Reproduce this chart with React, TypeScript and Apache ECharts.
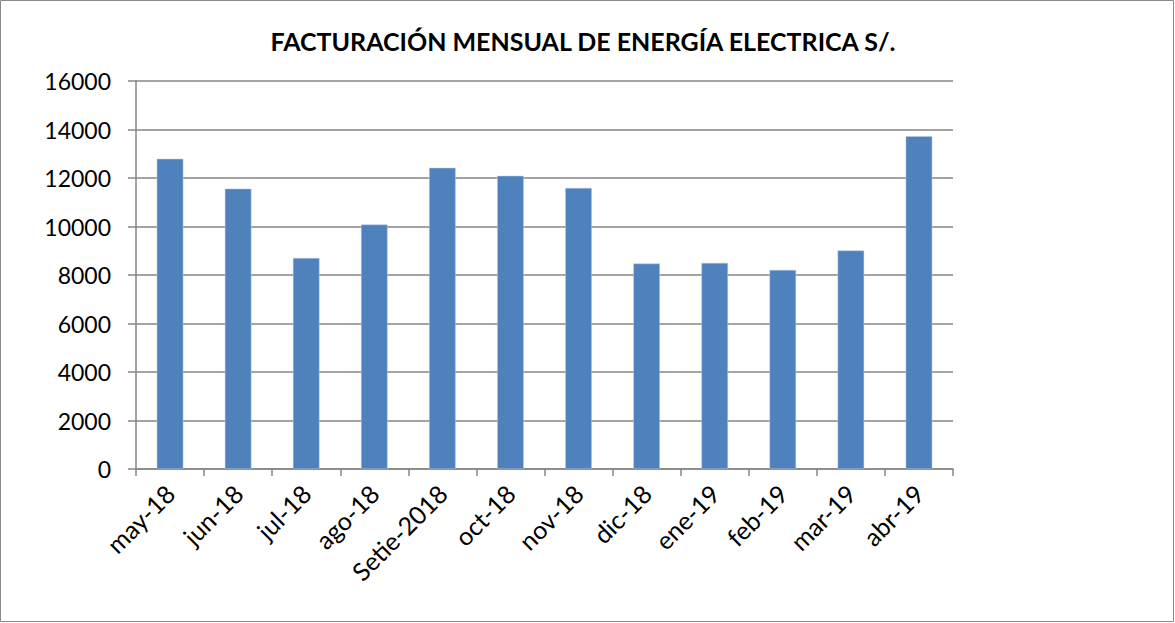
import React, { useEffect, useRef } from "react";
import * as echarts from "echarts";

const categories = ["may-18", "jun-18", "jul-18", "ago-18", "Setie-2018", "oct-18", "nov-18", "dic-18", "ene-19", "feb-19", "mar-19", "abr-19"];
const values = [12790, 11560, 8700, 10080, 12420, 12090, 11590, 8470, 8500, 8210, 9010, 13720];
const titleText = "FACTURACIÓN MENSUAL DE ENERGÍA ELECTRICA S/.";

export default function App() {
  const ref = useRef<HTMLDivElement>(null);
  useEffect(() => {
    document.body.style.margin = "0";
    const chart = echarts.init(ref.current!, null, { renderer: "svg" });
    chart.setOption({
      animation: false,
      textStyle: { fontFamily: "Lato" },
      graphic: [
        {
          type: "rect",
          shape: { x: 0.5, y: 0.5, width: 1173, height: 621 },
          style: { fill: "none", stroke: "#8a8a8a", lineWidth: 1 },
          silent: true,
        },
        {
          type: "text",
          x: 583,
          y: 41,
          style: {
            text: titleText,
            fontFamily: "Lato",
            fontWeight: "bold",
            fontSize: 25,
            fill: "#000",
            textAlign: "center",
            textVerticalAlign: "middle",
          },
          silent: true,
        },
      ],
      grid: { left: 136, right: 222, top: 81, bottom: 154, containLabel: false },
      xAxis: {
        type: "category",
        data: categories,
        boundaryGap: true,
        axisLine: { lineStyle: { color: "#868686", width: 1.5 } },
        axisTick: { show: true, alignWithLabel: false, length: 7, lineStyle: { color: "#868686", width: 1.5 } },
        axisLabel: { rotate: 45, color: "#000", fontSize: 25, fontFamily: "Lato", margin: 20, interval: 0 },
      },
      yAxis: {
        type: "value",
        min: 0,
        max: 16000,
        interval: 2000,
        axisLine: { show: true, lineStyle: { color: "#868686", width: 1.5 } },
        axisTick: { show: true, length: 8, lineStyle: { color: "#868686", width: 1.5 } },
        axisLabel: { color: "#000", fontSize: 23, fontFamily: "Lato", margin: 25, formatter: (v: number) => String(v) },
        splitLine: { lineStyle: { color: "#868686", width: 1.5 } },
      },
      series: [
        {
          type: "bar",
          data: values,
          barWidth: "39%",
          itemStyle: { color: "#4f81bd", borderColor: "#b9cde5", borderWidth: 0.5 },
        },
      ],
    });
    return () => chart.dispose();
  }, []);
  return <div ref={ref} style={{ width: 1175, height: 623 }} />;
}
